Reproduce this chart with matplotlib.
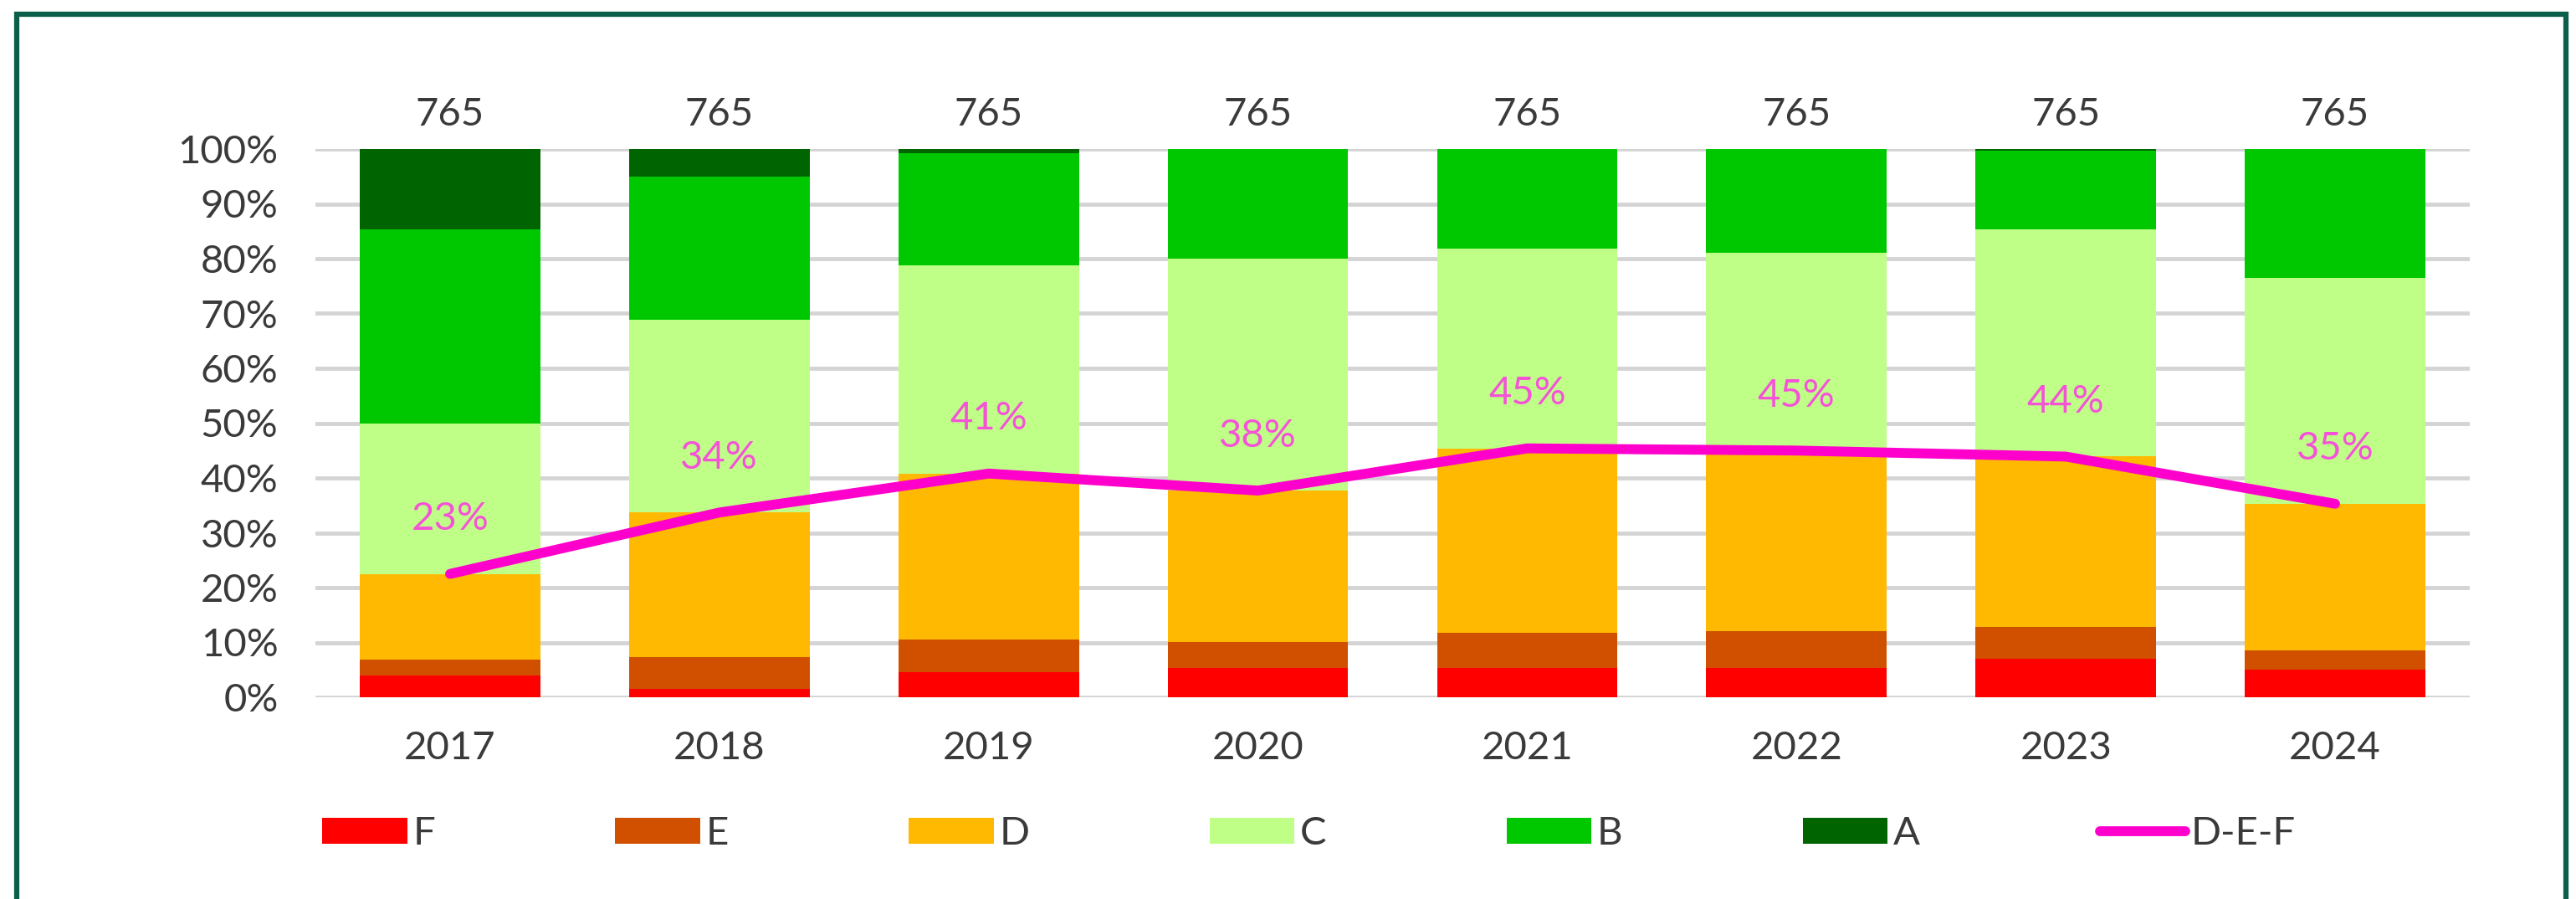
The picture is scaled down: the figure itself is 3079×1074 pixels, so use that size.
import matplotlib.pyplot as plt
import numpy as np
from matplotlib.patches import Rectangle, Patch
from matplotlib.lines import Line2D

plt.rcParams['font.family'] = ['Lato', 'DejaVu Sans']

# Données (% par classe, de bas en haut)
years = ['2017', '2018', '2019', '2020', '2021', '2022', '2023', '2024']
counts = [765, 765, 765, 765, 765, 765, 765, 765]
F = [3.9, 1.6, 4.6, 5.3, 5.4, 5.3, 7.0, 5.0]
E = [2.9, 5.7, 5.9, 4.8, 6.4, 6.8, 5.9, 3.5]
D = [15.7, 26.4, 30.3, 27.6, 33.6, 32.9, 31.0, 26.8]
C = [27.5, 35.2, 38.0, 42.3, 36.4, 36.0, 41.5, 41.2]
B = [35.4, 26.1, 20.5, 20.0, 18.2, 19.0, 14.3, 23.5]
A = [14.6, 5.0, 0.7, 0.0, 0.0, 0.0, 0.3, 0.0]
def_labels = [23, 34, 41, 38, 45, 45, 44, 35]

series = [('F', F, '#ff0000'), ('E', E, '#d05000'), ('D', D, '#ffb900'),
          ('C', C, '#bfff88'), ('B', B, '#00c800'), ('A', A, '#006400')]

txt = '#3a3a3a'
pink = '#ff00cc'
fs = 34

fig = plt.figure(figsize=(30.79, 10.74), dpi=100)
ax = fig.add_axes([377/3079, 1-833/1074, (2952-377)/3079, (833-178)/1074])

x = np.arange(len(years))
bottom = np.zeros(len(years))
for name, vals, col in series:
    v = np.array(vals) / 100
    ax.bar(x, v, bottom=bottom, width=0.67, color=col, label=name, zorder=2)
    bottom += v

# Courbe D-E-F
def_vals = (np.array(D) + np.array(E) + np.array(F)) / 100
ax.plot(x, def_vals, color=pink, lw=8.5, solid_capstyle='round', zorder=3)
for i, (v, lab) in enumerate(zip(def_vals, def_labels)):
    ax.text(i, v + 0.10, f'{lab}%', ha='center', va='center', color='#f552d8', fontsize=fs, zorder=4)

# Effectifs au-dessus des barres
for i, n in enumerate(counts):
    ax.text(i, 1.063, str(n), ha='center', va='center', color=txt, fontsize=fs, clip_on=False)

ax.set_xlim(-0.5, len(years) - 0.5)
ax.set_ylim(0, 1)
ax.set_yticks(np.arange(0, 1.01, 0.1))
ax.set_yticklabels([f'{int(round(t*100))}%' for t in np.arange(0, 1.01, 0.1)])
ax.set_xticks(x)
ax.set_xticklabels(years)
ax.tick_params(axis='both', length=0, labelsize=fs, labelcolor=txt)
ax.tick_params(axis='y', pad=32)
ax.tick_params(axis='x', pad=29)
ax.yaxis.grid(True, color='#d4d4d4', lw=3.5, zorder=0)
ax.set_axisbelow(True)
for s in ax.spines.values():
    s.set_visible(False)

# Légende
handles = [Patch(facecolor=col, edgecolor='none') for _, _, col in series]
handles.append(Line2D([0], [0], color=pink, lw=8.5, solid_capstyle='round'))
labels = [name for name, _, _ in series] + ['D-E-F']
fig.legend(handles, labels, loc='center left', bbox_to_anchor=(385/3079, 1-996/1074),
           ncol=7, frameon=False, fontsize=fs, labelcolor=txt,
           handlelength=2.15, handleheight=0.65, handletextpad=0.15, columnspacing=4.55,
           borderaxespad=0, borderpad=0)

# Cadre
fig.patches.append(Rectangle((20/3079, -0.05), (3067-20)/3079, 1.05 - 17/1074,
                             transform=fig.transFigure, fill=False,
                             edgecolor='#0b5e4a', lw=4.5))

fig.savefig('out.png', dpi=100)
